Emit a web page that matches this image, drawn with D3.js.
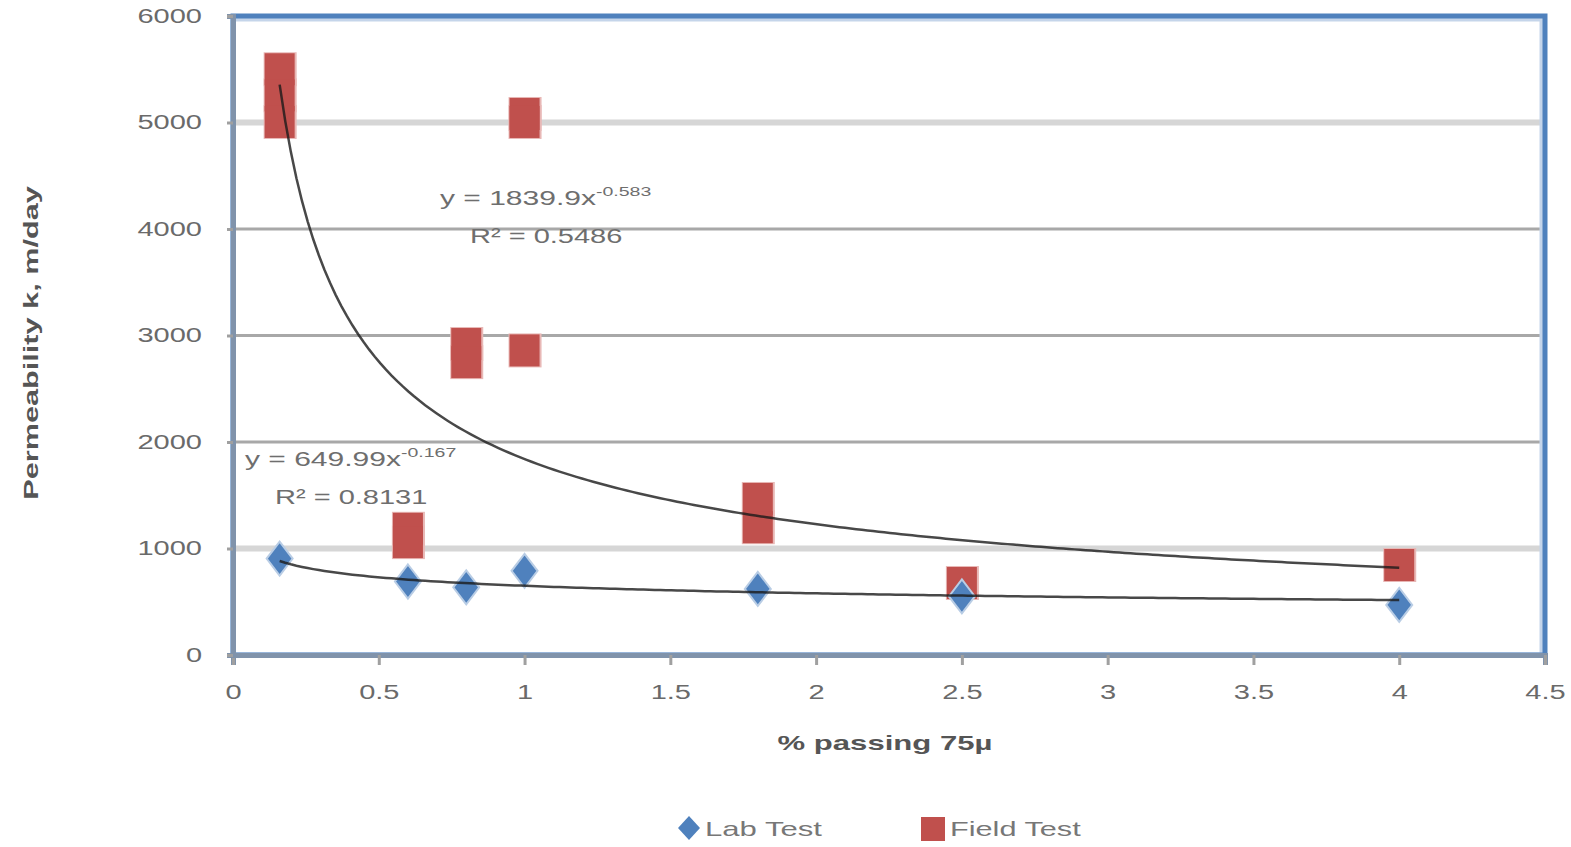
<!DOCTYPE html>
<html>
<head>
<meta charset="utf-8">
<script src="https://cdn.jsdelivr.net/npm/d3@7"></script>
<style>
  body { margin: 0; background: #fff; }
  text { font-family: "Liberation Sans", Arial, sans-serif; }
</style>
</head>
<body>
<svg width="1571" height="847"></svg>
<script>
// lab test (blue diamonds)
var labX = [0.16, 0.6, 0.8, 1.0, 1.8, 2.5, 4.0];
var labY = [905, 690, 635, 790, 620, 550, 470];
// field test (red squares), several tests share the same % passing
var fieldX = [0.16, 0.16, 0.16, 0.6, 0.6, 0.8, 0.8, 1.0, 1.0, 1.0, 1.8, 1.8, 2.5, 4.0];
var fieldY = [5500, 5255, 5005, 1185, 1060, 2920, 2750, 5080, 5005, 2860, 1465, 1200, 676, 845];
// power trendlines y = a*x^b
var labFit = [649.99, -0.167];
var fieldFit = [1839.9, -0.583];
var xTicks = [0, 0.5, 1, 1.5, 2, 2.5, 3, 3.5, 4, 4.5];
var yTicks = [0, 1000, 2000, 3000, 4000, 5000, 6000];

var svg = d3.select("svg");
var x = d3.scaleLinear().domain([0, 4.5]).range([233, 1545]);
var y = d3.scaleLinear().domain([0, 6000]).range([655, 16]);

// text in the picture is drawn wide
function widen(sel, k) {
  sel.each(function(){
    var w = this.getComputedTextLength();
    d3.select(this).attr("textLength", w * k).attr("lengthAdjust", "spacingAndGlyphs");
  });
}

// gridlines
svg.selectAll("line.grid")
  .data(yTicks.filter(function(d){ return d > 0 && d < 6000; }))
  .enter().append("line").attr("class","grid")
  .attr("x1", x(0)).attr("x2", x(4.5))
  .attr("y1", function(d){ return y(d); })
  .attr("y2", function(d){ return y(d); })
  .attr("stroke", function(d){ return (d == 1000 || d == 5000) ? "#d6d6d6" : "#a8a8a8"; })
  .attr("stroke-width", function(d){ return (d == 1000 || d == 5000) ? 6 : 3; });

// plot frame
svg.append("rect")
  .attr("x", x(0)).attr("y", y(6000) + 3)
  .attr("width", x(4.5) - x(0) - 3).attr("height", y(0) - y(6000) - 3)
  .attr("fill", "none").attr("stroke", "#c5d5ea").attr("stroke-width", 5);
svg.append("rect")
  .attr("x", x(0)).attr("y", y(6000))
  .attr("width", x(4.5) - x(0)).attr("height", y(0) - y(6000))
  .attr("fill", "none").attr("stroke", "#4f81bd").attr("stroke-width", 5);

// axes
var xAxis = d3.axisBottom(x).tickValues(xTicks).tickSize(10).tickPadding(20)
  .tickFormat(function(d){ return d; });
var gx = svg.append("g").attr("transform", "translate(0," + y(0) + ")").call(xAxis);
var yAxis = d3.axisLeft(y).tickValues(yTicks).tickSize(6).tickPadding(25)
  .tickFormat(function(d){ return d; });
var gy = svg.append("g").attr("transform", "translate(" + x(0) + ",0)").call(yAxis);
[gx, gy].forEach(function(g){
  g.select(".domain").attr("stroke", "#8093ab").attr("stroke-width", 5);
  g.selectAll(".tick line").attr("stroke", "#a0a0a0").attr("stroke-width", 3);
  g.selectAll(".tick text").attr("fill", "#6a6a6a").attr("font-size", "20px");
  widen(g.selectAll(".tick text"), 1.45);
});
gy.selectAll(".tick line").attr("x2", 0).attr("x1", -6);

// markers: halo pass, then fill pass so overlapping squares merge
var sq = 30, sqh = 32;
var fieldPts = d3.zip(fieldX, fieldY);
svg.selectAll("rect.fieldhalo")
  .data(fieldPts)
  .enter().append("rect").attr("class","fieldhalo")
  .attr("x", function(d){ return x(d[0]) - sq/2 - 1; })
  .attr("y", function(d){ return y(d[1]) - sqh/2 - 1; })
  .attr("width", sq + 3).attr("height", sqh + 2)
  .attr("fill", "#e8b8b6");
svg.selectAll("rect.field")
  .data(fieldPts)
  .enter().append("rect").attr("class","field")
  .attr("x", function(d){ return x(d[0]) - sq/2; })
  .attr("y", function(d){ return y(d[1]) - sqh/2; })
  .attr("width", sq).attr("height", sqh)
  .attr("fill", "#c0504d");

var diamond = function(cx, cy, w, h) {
  return "M" + cx + "," + (cy - h/2) + "L" + (cx + w/2) + "," + cy +
         "L" + cx + "," + (cy + h/2) + "L" + (cx - w/2) + "," + cy + "Z";
};
svg.selectAll("path.lab")
  .data(d3.zip(labX, labY))
  .enter().append("path").attr("class","lab")
  .attr("d", function(d){ return diamond(x(d[0]), y(d[1]), 26, 34); })
  .attr("fill", "#4f81bd").attr("stroke", "#b9cde5").attr("stroke-width", 2);

// trendlines (on top of the markers)
function powerLine(fit, xs) {
  var lo = d3.min(xs), hi = d3.max(xs), pts = [];
  for (var i = 0; i <= 200; i++) {
    var xv = lo + (hi - lo) * i / 200;
    pts.push([xv, fit[0] * Math.pow(xv, fit[1])]);
  }
  return pts;
}
var line = d3.line().x(function(d){ return x(d[0]); }).y(function(d){ return y(d[1]); });
svg.append("path").datum(powerLine(fieldFit, fieldX))
  .attr("d", line).attr("fill", "none").attr("stroke", "#1a1a1a")
  .attr("stroke-opacity", 0.8).attr("stroke-width", 2.5);
svg.append("path").datum(powerLine(labFit, labX))
  .attr("d", line).attr("fill", "none").attr("stroke", "#1a1a1a")
  .attr("stroke-opacity", 0.8).attr("stroke-width", 2.5);

// equations
function equation(tx, ty, a, b, r2) {
  var t = svg.append("text").attr("x", tx).attr("y", ty).attr("fill", "#6e6e6e").attr("font-size", "20px");
  t.append("tspan").text("y = " + a + "x");
  t.append("tspan").attr("dy", -9).attr("font-size", "13px").text(b);
  widen(t, 1.5);
  var r = svg.append("text").attr("x", tx + 30).attr("y", ty + 38).attr("fill", "#6e6e6e")
    .attr("font-size", "20px").text("R² = " + r2);
  widen(r, 1.45);
}
equation(440, 205, "1839.9", "-0.583", "0.5486");
equation(245, 466, "649.99", "-0.167", "0.8131");

// axis titles
var xt = svg.append("text").attr("x", 885).attr("y", 750).attr("text-anchor", "middle")
  .attr("font-size", "21px").attr("font-weight", "bold").attr("fill", "#555")
  .text("% passing 75µ");
widen(xt, 1.48);
var yt = svg.append("text").attr("transform", "translate(38,343) rotate(-90)").attr("text-anchor", "middle")
  .attr("font-size", "21px").attr("font-weight", "bold").attr("fill", "#555")
  .text("Permeability k, m/day");
widen(yt, 1.46);

// legend
svg.append("path").attr("d", diamond(689, 828, 22, 24)).attr("fill", "#4f81bd");
var l1 = svg.append("text").attr("x", 705).attr("y", 836).attr("font-size", "21px").attr("fill", "#777").text("Lab Test");
svg.append("rect").attr("x", 921).attr("y", 817).attr("width", 24).attr("height", 24).attr("fill", "#c0504d");
var l2 = svg.append("text").attr("x", 950).attr("y", 836).attr("font-size", "21px").attr("fill", "#777").text("Field Test");
widen(l1, 1.48);
widen(l2, 1.46);
</script>
</body>
</html>
